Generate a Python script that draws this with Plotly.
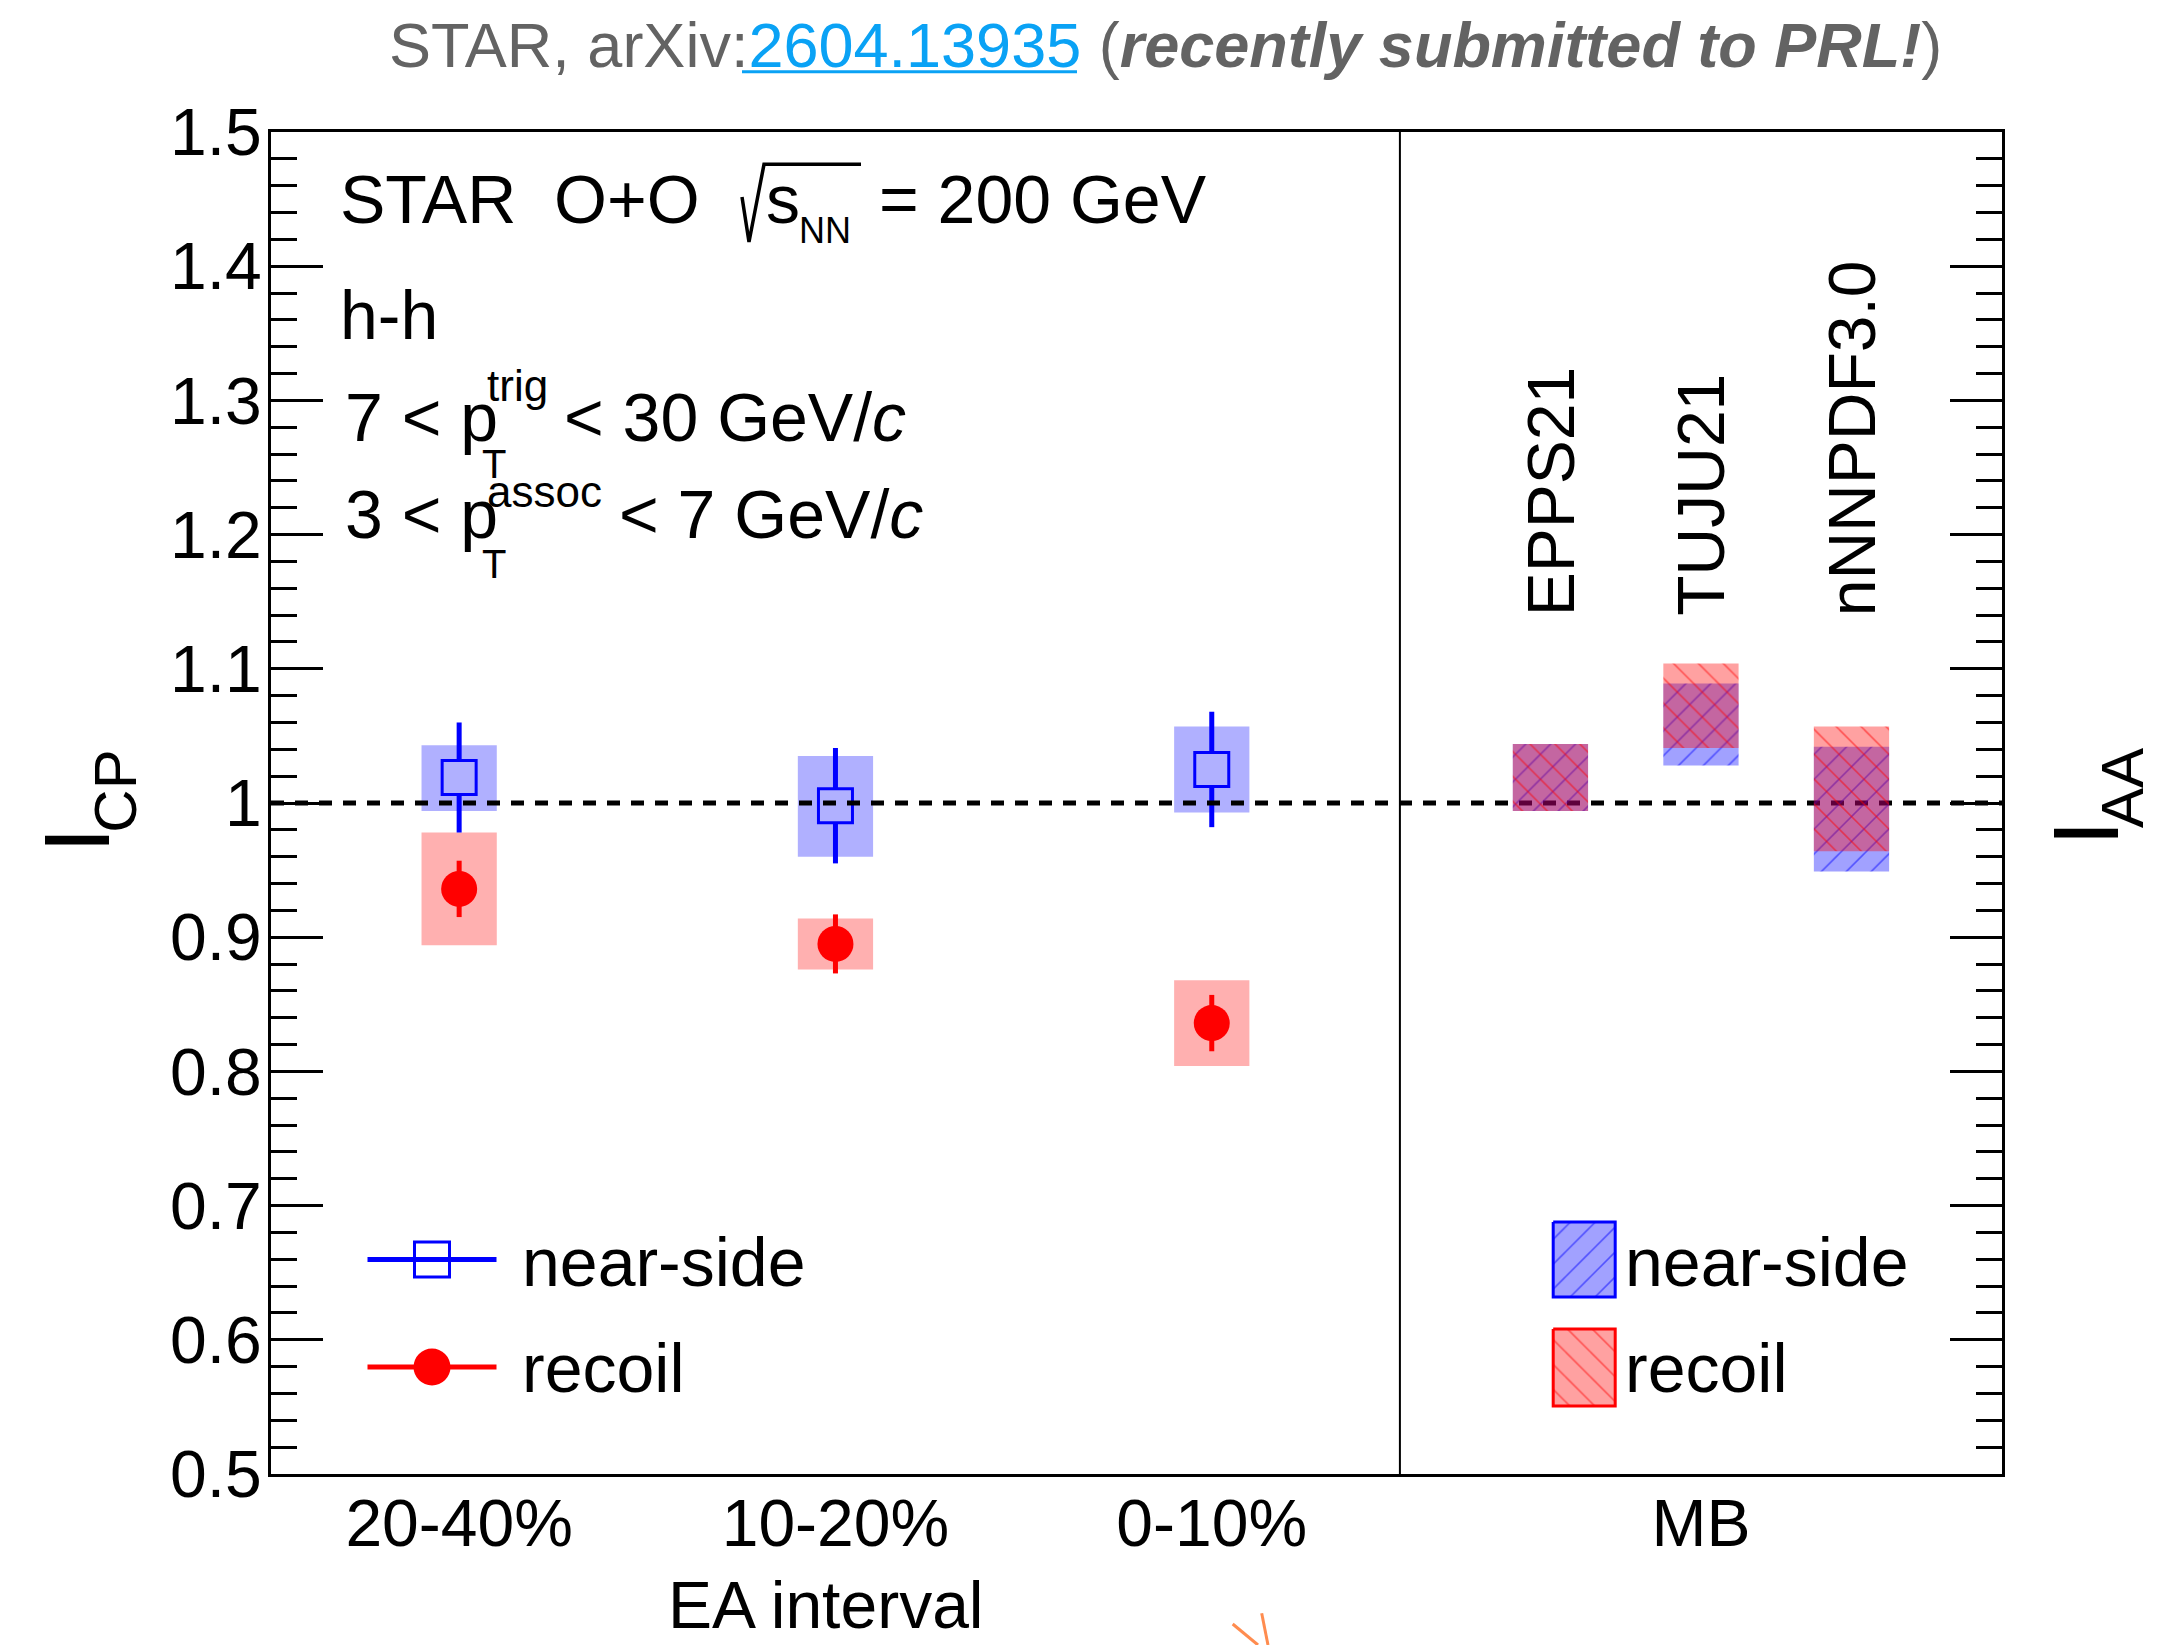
import plotly.graph_objects as go

# ---------------- data ----------------
EA_LABELS = ["20-40%", "10-20%", "0-10%"]
X_EA = [0.5, 1.5, 2.5]

NEAR_ICP = [1.019, 0.998, 1.025]
NEAR_STAT = [0.041, 0.043, 0.043]
NEAR_SYS_LO = [0.994, 0.960, 0.993]
NEAR_SYS_HI = [1.043, 1.035, 1.057]

REC_ICP = [0.936, 0.895, 0.836]
REC_STAT = [0.021, 0.022, 0.021]
REC_SYS_LO = [0.894, 0.876, 0.804]
REC_SYS_HI = [0.978, 0.914, 0.868]

MODELS = ["EPPS21", "TUJU21", "nNNPDF3.0"]
X_MODEL = [3.4, 3.8, 4.2]
MODEL_NEAR_LO = [0.994, 1.028, 0.949]
MODEL_NEAR_HI = [1.044, 1.089, 1.042]
MODEL_REC_LO = [0.994, 1.041, 0.964]
MODEL_REC_HI = [1.044, 1.104, 1.057]

X_TICKVALS = [0.5, 1.5, 2.5, 3.8]
X_TICKTEXT = ["20-40%", "10-20%", "0-10%", "MB"]
Y_TICKVALS = [0.5, 0.6, 0.7, 0.8, 0.9, 1.0, 1.1, 1.2, 1.3, 1.4, 1.5]
Y_TICKTEXT = ["0.5", "0.6", "0.7", "0.8", "0.9", "1", "1.1", "1.2", "1.3", "1.4", "1.5"]

REF_LEVEL = 1.0
X_RANGE = [0, 4.6]
Y_RANGE = [0.5, 1.5]
DIVIDER_X = 3.0
BOX_HALF = 0.1
MODEL_LABEL_Y = 1.138

# ---------------- layout constants ----------------
W, H = 2168, 1645
PX_L, PX_R, PX_T, PX_B = 271, 2002, 132, 1474
FONT = "Liberation Sans, Arial, Helvetica, sans-serif"
BLUE, RED = "#0000ff", "#ff0000"
SYS_BLUE, SYS_RED = "#b0b0ff", "#ffb0b0"
HATCH_BLUE, HATCH_RED = "rgba(0,0,255,0.37)", "rgba(255,0,0,0.37)"


def pxx(x):
    return (x - PX_L) / (PX_R - PX_L)


def pxy(y):
    return (PX_B - y) / (PX_B - PX_T)


fig = go.Figure()

# systematic boxes
fig.add_trace(go.Bar(x=X_EA, y=[h - l for l, h in zip(NEAR_SYS_LO, NEAR_SYS_HI)],
                     base=NEAR_SYS_LO, width=2 * BOX_HALF,
                     marker=dict(color=SYS_BLUE, line=dict(width=0)), showlegend=False))
fig.add_trace(go.Bar(x=X_EA, y=[h - l for l, h in zip(REC_SYS_LO, REC_SYS_HI)],
                     base=REC_SYS_LO, width=2 * BOX_HALF,
                     marker=dict(color=SYS_RED, line=dict(width=0)), showlegend=False))

# points with stat errors
fig.add_trace(go.Scatter(x=X_EA, y=NEAR_ICP, mode="markers", name="near-side",
                         error_y=dict(type="data", array=NEAR_STAT, color=BLUE, thickness=5, width=0),
                         marker=dict(symbol="square", size=34, color=SYS_BLUE, line=dict(color=BLUE, width=3)),
                         showlegend=False))
fig.add_trace(go.Scatter(x=X_EA, y=REC_ICP, mode="markers", name="recoil",
                         error_y=dict(type="data", array=REC_STAT, color=RED, thickness=5, width=0),
                         marker=dict(symbol="circle", size=36, color=RED, line=dict(width=0)),
                         showlegend=False))

# reference line
fig.add_trace(go.Scatter(x=X_RANGE, y=[REF_LEVEL, REF_LEVEL], mode="lines",
                         line=dict(color="black", width=5, dash="13px,11px"),
                         showlegend=False, hoverinfo="skip"))


def box_trace(xc, lo, hi, fill, fg, shape, xaxis="x", yaxis="y", hw=BOX_HALF, border=0):
    return go.Scatter(x=[xc - hw, xc + hw, xc + hw, xc - hw, xc - hw],
                      y=[lo, lo, hi, hi, lo], mode="lines", fill="toself",
                      fillcolor=fill,
                      fillpattern=dict(shape=shape, fgcolor=fg, bgcolor=fill, size=17.6,
                                       solidity=0.09, fillmode="overlay"),
                      line=dict(color=fg, width=border), xaxis=xaxis, yaxis=yaxis,
                      showlegend=False, hoverinfo="skip")


for xc, lo, hi in zip(X_MODEL, MODEL_NEAR_LO, MODEL_NEAR_HI):
    fig.add_trace(box_trace(xc, lo, hi, HATCH_BLUE, BLUE, "/"))
for xc, lo, hi in zip(X_MODEL, MODEL_REC_LO, MODEL_REC_HI):
    fig.add_trace(box_trace(xc, lo, hi, HATCH_RED, RED, "\\"))

# ---------------- legend keys (pixel overlay axes) ----------------
LEG_LINE_X = [367.5, 496.5]
LEG_MARK_X = 432
LEG_ROW_Y = [1259.5, 1367]
fig.add_trace(go.Scatter(x=LEG_LINE_X, y=[LEG_ROW_Y[0]] * 2, mode="lines", line=dict(color=BLUE, width=5),
                         xaxis="x2", yaxis="y2", showlegend=False, hoverinfo="skip"))
fig.add_trace(go.Scatter(x=[LEG_MARK_X], y=[LEG_ROW_Y[0]], mode="markers",
                         marker=dict(symbol="square-open", size=35, color=BLUE, line=dict(color=BLUE, width=3)),
                         xaxis="x2", yaxis="y2", showlegend=False, hoverinfo="skip"))
fig.add_trace(go.Scatter(x=LEG_LINE_X, y=[LEG_ROW_Y[1]] * 2, mode="lines", line=dict(color=RED, width=5),
                         xaxis="x2", yaxis="y2", showlegend=False, hoverinfo="skip"))
fig.add_trace(go.Scatter(x=[LEG_MARK_X], y=[LEG_ROW_Y[1]], mode="markers",
                         marker=dict(symbol="circle", size=37, color=RED),
                         xaxis="x2", yaxis="y2", showlegend=False, hoverinfo="skip"))
LEG_BOX_XC = 1584.2
LEG_BOX_HW = 31
fig.add_trace(box_trace(LEG_BOX_XC, 1222, 1297, HATCH_BLUE, BLUE, "/", "x2", "y2", LEG_BOX_HW, 3))
fig.add_trace(box_trace(LEG_BOX_XC, 1329, 1406, HATCH_RED, RED, "\\", "x2", "y2", LEG_BOX_HW, 3))

# ---------------- annotations ----------------
ann = []


def text(x, y, s, size=68, xanchor="left", yanchor="middle", angle=0, color="black", ref="paper"):
    if ref == "paper":
        ann.append(dict(x=pxx(x), y=pxy(y), xref="paper", yref="paper", text=s, showarrow=False,
                        xanchor=xanchor, yanchor=yanchor, textangle=angle,
                        font=dict(family=FONT, size=size, color=color)))
    else:
        ann.append(dict(x=x, y=y, xref="x", yref="y", text=s, showarrow=False,
                        xanchor=xanchor, yanchor=yanchor, textangle=angle,
                        font=dict(family=FONT, size=size, color=color)))


# header
text(1165.5, 44.7,
     "STAR, arXiv:<span style='color:#0aa2f5'>2604.13935</span> (<b><i>recently submitted to PRL!</i></b>)",
     size=63, xanchor="center", color="#636363")

# info text
text(338, 198.8, "STAR\u00a0\u00a0O+O")
text(764, 198.8, "s")
text(797, 230, "NN", size=36)
text(877, 198.8, "= 200 GeV")
text(338, 315.4, "h-h")
text(343, 417, "7 &lt; p")
text(485, 385, "trig", size=44)
text(480, 463.7, "T", size=40)
text(562, 417, "&lt; 30 GeV/<i>c</i>")
text(343, 513.8, "3 &lt; p")
text(485, 491.5, "assoc", size=44)
text(480, 563.7, "T", size=40)
text(617, 513.8, "&lt; 7 GeV/<i>c</i>")

# model labels
for xm, name in zip(X_MODEL, MODELS):
    text(xm, MODEL_LABEL_Y, name, size=66, xanchor="center", yanchor="bottom", angle=-90, ref="data")

# legend texts
text(520, 1262, "near-side")
text(520, 1368, "recoil")
text(1623, 1262, "near-side")
text(1623, 1368, "recoil")

# axis titles
text(825.8, 1644, "EA interval", size=66, xanchor="center", yanchor="bottom")
text(77, 840, "I", size=93, xanchor="center", angle=-90)
text(116, 791.7, "CP", size=60, xanchor="center", angle=-90)
text(2086, 833, "I", size=93, xanchor="center", angle=-90)
text(2122, 788, "AA", size=60, xanchor="center", angle=-90)

# radical sign for sqrt(s_NN), drawn as a path in paper coordinates
RAD_PTS = [(742, 197), (749, 242), (764, 164.3), (861, 164.3)]
rad_path = "M " + " L ".join(f"{pxx(a):.5f},{pxy(b):.5f}" for a, b in RAD_PTS)

shapes = [
    dict(type="line", xref="x", yref="paper", x0=DIVIDER_X, x1=DIVIDER_X, y0=0, y1=1,
         line=dict(color="black", width=2)),
    dict(type="path", xref="paper", yref="paper", path=rad_path,
         line=dict(color="black", width=3.5)),
    # link underline
    dict(type="line", xref="paper", yref="paper", x0=pxx(742), x1=pxx(1077), y0=pxy(71.7), y1=pxy(71.7),
         line=dict(color="#0aa2f5", width=3)),
    # orange decoration
    dict(type="line", xref="paper", yref="paper", x0=pxx(1232.7), x1=pxx(1258), y0=pxy(1624), y1=pxy(1645),
         line=dict(color="#ff8c4f", width=3)),
    dict(type="line", xref="paper", yref="paper", x0=pxx(1261.7), x1=pxx(1268), y0=pxy(1613.3), y1=pxy(1645),
         line=dict(color="#ff8c4f", width=3)),
]

fig.update_layout(
    width=W, height=H, autosize=False,
    margin=dict(l=PX_L, r=W - PX_R, t=PX_T, b=H - PX_B, pad=0),
    paper_bgcolor="white", plot_bgcolor="white",
    barmode="overlay", showlegend=False,
    font=dict(family=FONT, color="black"),
    xaxis=dict(range=X_RANGE, tickmode="array", tickvals=X_TICKVALS, ticktext=X_TICKTEXT,
               ticks="", showline=True, linewidth=3, linecolor="black", mirror=True,
               showgrid=False, zeroline=False, tickfont=dict(size=66, family=FONT, color="black"),
               ticklabelstandoff=-10),
    yaxis=dict(range=Y_RANGE, tickmode="array", tickvals=Y_TICKVALS, ticktext=Y_TICKTEXT,
               ticks="inside", ticklen=52, tickwidth=3, tickcolor="black",
               showline=True, linewidth=3, linecolor="black", mirror="ticks",
               showgrid=False, zeroline=False, tickfont=dict(size=66, family=FONT, color="black"),
               ticklabelstandoff=-7,
               minor=dict(tickmode="linear", tick0=0.5, dtick=0.02, ticks="inside", ticklen=26,
                          tickwidth=3, tickcolor="black", showgrid=False)),
    xaxis2=dict(overlaying="x", range=[PX_L, PX_R], visible=False, anchor="y2"),
    yaxis2=dict(overlaying="y", range=[PX_B, PX_T], visible=False, anchor="x2"),
    annotations=ann, shapes=shapes,
)

fig.write_html("out.html")
